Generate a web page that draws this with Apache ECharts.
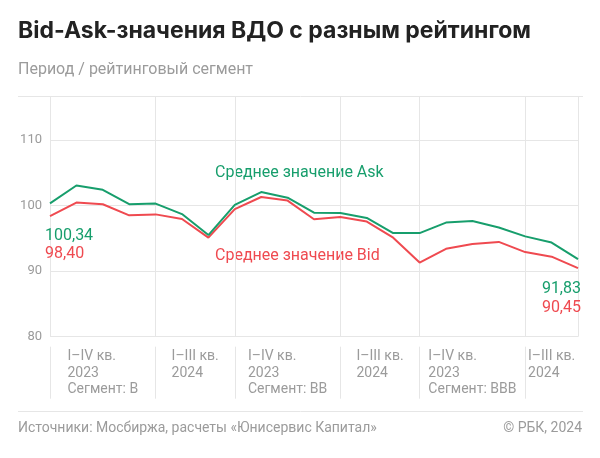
<!DOCTYPE html>
<html>
<head>
<meta charset="utf-8">
<script src="https://cdn.jsdelivr.net/npm/echarts@6/dist/echarts.min.js"></script>
<style>
html,body{margin:0;padding:0;background:#fff;}
#chart{width:600px;height:458px;}
</style>
</head>
<body>
<div id="chart"></div>
<script>
// ---- data ----
const askValues = [100.34, 103.05, 102.4, 100.2, 100.3, 98.7, 95.5, 100.1, 102.05, 101.2, 98.9, 98.85, 98.1, 95.8, 95.8, 97.4, 97.65, 96.65, 95.3, 94.35, 91.83];
const bidValues = [98.40, 100.45, 100.2, 98.5, 98.65, 97.95, 95.1, 99.45, 101.3, 100.75, 97.9, 98.25, 97.55, 95.1, 91.3, 93.4, 94.15, 94.45, 92.9, 92.2, 90.45];
const segmentBounds = [0, 4, 7, 11, 14, 18, 20];
const segmentLabels = [
  ['I–IV кв.', '2023', 'Сегмент: B'],
  ['I–III кв.', '2024'],
  ['I–IV кв.', '2023', 'Сегмент: BB'],
  ['I–III кв.', '2024'],
  ['I–IV кв.', '2023', 'Сегмент: BBB'],
  ['I–III кв.', '2024']
];
const yTicks = [80, 90, 100, 110];
const askName = 'Среднее значение Ask';
const bidName = 'Среднее значение Bid';

// ---- styling ----
const FONT = 'Roboto, "Noto Sans", sans-serif';
const TITLE_FONT = 'Inter, Roboto, sans-serif';
const GREEN = '#179e6c';
const RED = '#ef4a50';
const GRID = '#e6e6e6';
const GREY = '#9b9b9b';

const segmentCenters = segmentLabels.map((_, i) => (segmentBounds[i] + segmentBounds[i + 1]) / 2);
const fmtNum = v => v.toFixed(2).replace('.', ',');

function buildSeries(values) {
  return values.map((v, i) => [i, v]);
}

const askData = buildSeries(askValues);
const bidData = buildSeries(bidValues);
const last = askValues.length - 1;

function labelItem(arr, idx, pos, align, color) {
  arr[idx] = {
    value: arr[idx],
    label: {
      show: true, position: pos, align: align, verticalAlign: 'middle',
      formatter: p => fmtNum(p.value[1]),
      color: color, fontSize: 16, fontFamily: FONT
    }
  };
}
labelItem(askData, 0, [-5, 32.4], 'left', GREEN);
labelItem(bidData, 0, [-5, 38], 'left', RED);
labelItem(askData, last, [3, 30.3], 'right', GREEN);
labelItem(bidData, last, [3, 39.6], 'right', RED);

const chart = echarts.init(document.getElementById('chart'), null, {renderer: 'canvas'});
chart.setOption({
  animation: false,
  backgroundColor: '#fff',
  textStyle: {fontFamily: FONT},
  grid: {left: 50, right: 22, top: 96, bottom: 121.3},
  xAxis: [
    {
      type: 'value', min: 0, max: segmentBounds[segmentBounds.length - 1],
      axisLine: {show: false},
      axisTick: {show: false, customValues: segmentBounds},
      axisLabel: {show: false},
      splitLine: {show: true, lineStyle: {color: GRID, width: 1}}
    },
    {
      type: 'value', min: 0, max: segmentBounds[segmentBounds.length - 1],
      position: 'bottom', offset: 10,
      axisLine: {show: false},
      axisTick: {show: true, customValues: segmentBounds.slice(0, -1), length: 52, lineStyle: {color: GRID}},
      splitLine: {show: false},
      axisLabel: {
        show: true, customValues: segmentCenters, margin: 2,
        formatter: v => {
          let k = segmentCenters.indexOf(v);
          if (k < 0) return '';
          return segmentLabels[k].map(s => '{a|' + s + '}').join('\n');
        },
        rich: {a: {fontSize: 14, lineHeight: 16.5, color: GREY, align: 'left', fontFamily: FONT}}
      }
    }
  ],
  yAxis: {
    type: 'value', min: 80, max: 116.7,
    axisLine: {show: false},
    axisTick: {show: false, customValues: yTicks},
    axisLabel: {customValues: yTicks, color: GREY, fontSize: 13, margin: 8, fontFamily: FONT},
    splitLine: {show: true, lineStyle: {color: GRID, width: 1}}
  },
  series: [
    {
      name: askName, type: 'line', xAxisIndex: 0, data: askData,
      symbol: 'circle', symbolSize: 0, showSymbol: true,
      lineStyle: {color: GREEN, width: 2}, itemStyle: {color: GREEN},
      z: 3
    },
    {
      name: bidName, type: 'line', xAxisIndex: 0, data: bidData,
      symbol: 'circle', symbolSize: 0, showSymbol: true,
      lineStyle: {color: RED, width: 2}, itemStyle: {color: RED},
      z: 2
    }
  ],
  graphic: [
    {type: 'text', left: 18, top: 20, style: {text: 'Bid-Ask-значения ВДО с разным рейтингом', font: 'bold 23px ' + TITLE_FONT, fill: '#222'}},
    {type: 'text', left: 18, top: 62, style: {text: 'Период / рейтинговый сегмент', font: '16px ' + FONT, fill: GREY}},
    {type: 'line', shape: {x1: 18, y1: 96.5, x2: 583, y2: 96.5}, style: {stroke: GRID, lineWidth: 1}},
    {type: 'line', shape: {x1: 18, y1: 411.5, x2: 583, y2: 411.5}, style: {stroke: GRID, lineWidth: 1}},
    {type: 'text', left: 215, top: 165, style: {text: askName, font: '16px ' + FONT, fill: GREEN}},
    {type: 'text', left: 215, top: 248, style: {text: bidName, font: '16px ' + FONT, fill: RED}},
    {type: 'text', left: 18, top: 421, style: {text: 'Источники: Мосбиржа, расчеты «Юнисервис Капитал»', font: '14px ' + FONT, fill: GREY}},
    {type: 'text', right: 18, top: 421, style: {text: '© РБК, 2024', font: '14px ' + FONT, fill: GREY}}
  ]
});
</script>
</body>
</html>
